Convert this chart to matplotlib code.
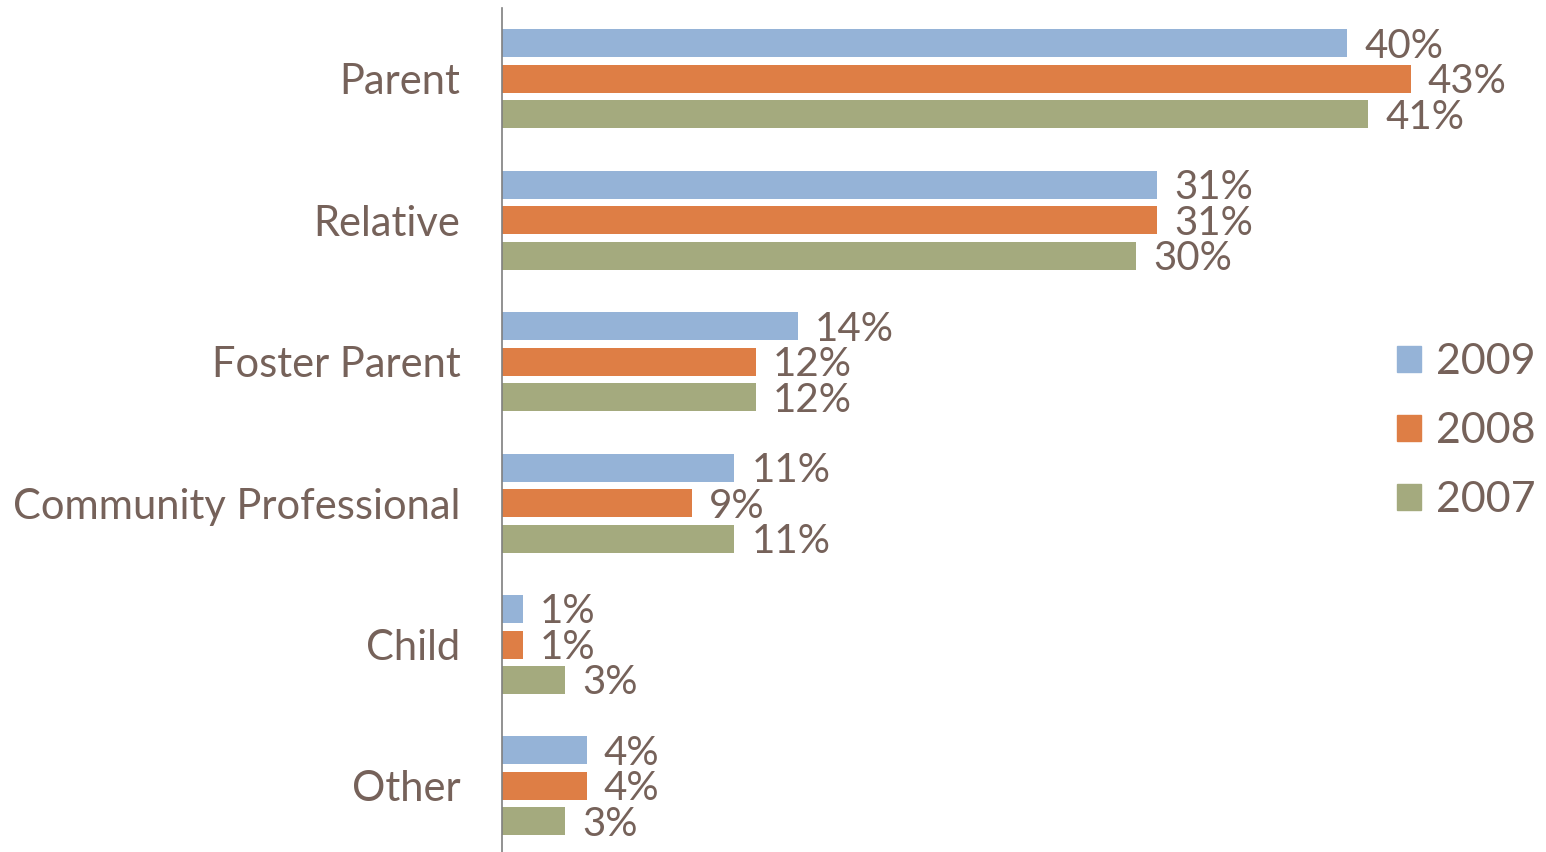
import numpy as np
import matplotlib.pyplot as plt
from matplotlib.patches import Patch

categories = ['Parent', 'Relative', 'Foster Parent', 'Community Professional', 'Child', 'Other']
years = ['2009', '2008', '2007']
vals_2009 = [40, 31, 14, 11, 1, 4]
vals_2008 = [43, 31, 12, 9, 1, 4]
vals_2007 = [41, 30, 12, 11, 3, 3]
colors = ['#95B3D7', '#DE7E45', '#A4AA7E']
txt = '#76625A'

plt.rcParams['font.family'] = ['Lato', 'DejaVu Sans']

fig = plt.figure(figsize=(15.46, 8.52), dpi=100)
ax = fig.add_axes([0.3247, 0.0, 1 - 0.3247, 1 - 8 / 852])

y = np.arange(len(categories))
step = 0.251
h = 0.198
for k, (vals, c) in enumerate(zip([vals_2009, vals_2008, vals_2007], colors)):
    pos = y + (k - 1) * step
    ax.barh(pos, vals, height=h, color=c)
    for p, v in zip(pos, vals):
        ax.text(v + 0.8, p + 0.02, f'{v}%', va='center', ha='left', fontsize=29, color=txt)

ax.set_ylim(5.467, -0.502)
ax.set_xlim(0, 49.4)
ax.set_yticks(y)
ax.set_yticklabels(categories, fontsize=30, color=txt)
ax.tick_params(axis='y', length=0, pad=30)
ax.set_xticks([])
for s in ['top', 'right', 'bottom']:
    ax.spines[s].set_visible(False)
ax.spines['left'].set_color('#7F7F7F')
ax.spines['left'].set_linewidth(1.2)

handles = [Patch(color=c) for c in colors]
fig.legend(handles, years, loc='center left', bbox_to_anchor=(0.9036, 0.494),
           frameon=False, fontsize=31, labelcolor=txt, handlelength=0.55,
           handleheight=0.55, handletextpad=0.35, labelspacing=0.72,
           borderpad=0, borderaxespad=0)

plt.savefig('out.png')
